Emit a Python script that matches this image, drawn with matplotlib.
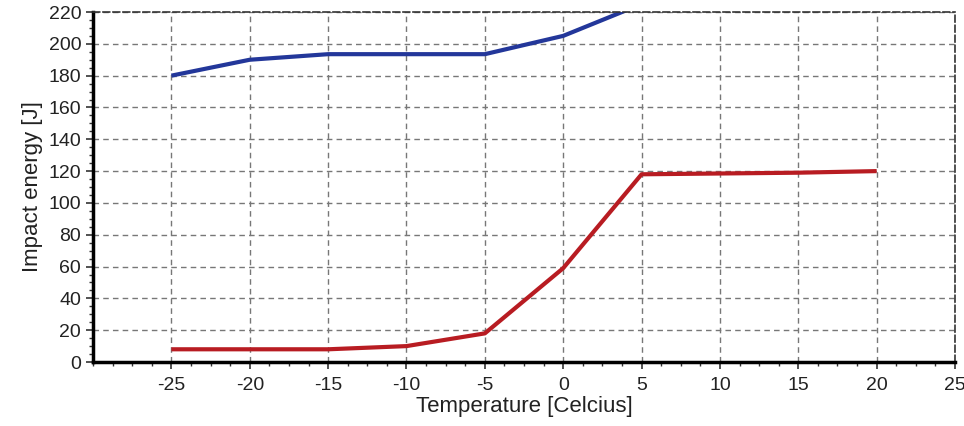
import matplotlib
matplotlib.use('Agg')
import matplotlib.pyplot as plt
from matplotlib.ticker import MultipleLocator, AutoMinorLocator

# temperatures (Celcius) and impact energy (J)
temps = [-25, -20, -15, -10, -5, 0, 5, 10, 15, 20]
upper_temps = [-25, -20, -15, -10, -5, 0, 5]
upper_energy = [180, 190, 193.5, 193.5, 193.5, 205, 225]
lower_energy = [8, 8, 8, 10, 18, 59, 118, 118.5, 119, 120]

plt.rcParams['font.family'] = ['Liberation Sans', 'DejaVu Sans']
plt.rcParams['axes.unicode_minus'] = False

fig = plt.figure(figsize=(9.64, 4.26), dpi=100)
ax = fig.add_axes([0.0965, 0.1502, 0.8942, 0.8216])

ax.plot(upper_temps, upper_energy, color='#23379a', lw=3.0, solid_capstyle='butt')
ax.plot(temps, lower_energy, color='#b81c22', lw=3.0, solid_capstyle='butt')

ax.set_xlim(-30, 25)
ax.set_ylim(0, 220)
ax.xaxis.set_major_locator(MultipleLocator(5))
ax.yaxis.set_major_locator(MultipleLocator(20))
ax.xaxis.set_minor_locator(AutoMinorLocator(4))
ax.yaxis.set_minor_locator(AutoMinorLocator(4))

# no label at -30, like the original
ax.set_xticks(range(-25, 26, 5))

ax.grid(True, which='major', color='#777777', linestyle=(0, (4, 3)), linewidth=1.0)
ax.set_axisbelow(True)

for side in ['left', 'bottom']:
    ax.spines[side].set_linewidth(2.5)
    ax.spines[side].set_color('black')
for side in ['top', 'right']:
    ax.spines[side].set_linewidth(1.2)
    ax.spines[side].set_color('#333333')
    ax.spines[side].set_linestyle((0, (4, 2)))

ax.tick_params(axis='x', which='major', pad=6)
ax.tick_params(which='major', direction='out', length=5, width=1.2, color='#333333',
               labelsize=14, labelcolor='#222222')
ax.tick_params(which='minor', direction='out', length=3, width=1.0, color='#333333')

ax.set_xlabel('Temperature [Celcius]', fontsize=16, color='#222222', labelpad=1)
ax.set_ylabel('Impact energy [J]', fontsize=16, color='#222222', labelpad=4)

plt.savefig('out.png', dpi=100)
plt.close()
